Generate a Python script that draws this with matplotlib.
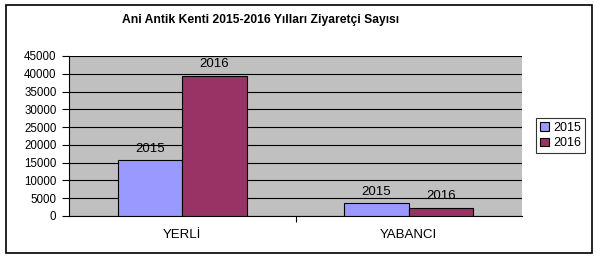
import matplotlib
matplotlib.use("Agg")
import matplotlib.pyplot as plt
from matplotlib.patches import Rectangle
import numpy as np

plt.rcParams['font.family'] = ['Liberation Sans', 'DejaVu Sans']

categories = ["YERLİ", "YABANCI"]
series_names = ["2015", "2016"]
values_2015 = [15700, 3550]
values_2016 = [39400, 2350]
colors = ["#9999FF", "#993366"]
yticks = [0, 5000, 10000, 15000, 20000, 25000, 30000, 35000, 40000, 45000]
title = "Ani Antik Kenti 2015-2016 Yılları Ziyaretçi Sayısı"

W, H = 602, 260
fig = plt.figure(figsize=(W / 100, H / 100), dpi=100)

# outer frame
fig.patches.append(Rectangle((6 / W, 1 - 253 / H), (592 - 6) / W, (253 - 5) / H,
                             transform=fig.transFigure, fill=False,
                             edgecolor="black", linewidth=1.2))

ax = fig.add_axes([69 / W, 1 - 216 / H, (522 - 69) / W, (216 - 56) / H])
ax.set_facecolor("#C0C0C0")

x = np.arange(len(categories))
width = 1 / 3.5
series = [values_2015, values_2016]
for i, (vals, name, c) in enumerate(zip(series, series_names, colors)):
    pos = x + (i - 0.5) * width
    ax.bar(pos, vals, width, color=c, edgecolor="black", linewidth=0.8,
           label=name, zorder=3)
    for p, v in zip(pos, vals):
        ax.annotate(name, (p, v), xytext=(0, 4), textcoords="offset points",
                    ha="center", va="bottom", fontsize=9.5, zorder=4)

ax.set_xlim(-0.5, 1.5)
ax.set_ylim(0, 45000)
ax.set_yticks(yticks)
ax.set_yticklabels([str(t) for t in yticks], fontsize=8.3)
ax.yaxis.grid(True, color="black", linewidth=0.8, zorder=1)
ax.set_axisbelow(True)
ax.set_xticks(x)
ax.set_xticklabels(categories, fontsize=9.5)
ax.tick_params(axis="x", which="major", length=0, pad=9)
ax.set_xticks([0.5], minor=True)
ax.tick_params(axis="x", which="minor", length=4, width=0.8, direction="out")
ax.tick_params(axis="y", length=5, width=0.8, direction="out", pad=4)

for s in ["top", "right"]:
    ax.spines[s].set_visible(False)
ax.spines["left"].set_linewidth(0.8)
ax.spines["bottom"].set_linewidth(0.8)

fig.text((122 + 400) / 2 / W, 1 - 20 / H, title, ha="center", va="center",
         fontsize=8.7, fontweight="bold")

leg = ax.legend(loc="center left", bbox_to_anchor=(536 / W, 1 - 135.5 / H),
                bbox_transform=fig.transFigure, fontsize=9, frameon=True,
                fancybox=False, edgecolor="black", handlelength=0.7,
                handleheight=0.7, handletextpad=0.4, borderpad=0.3,
                labelspacing=0.3, borderaxespad=0)
leg.get_frame().set_linewidth(0.8)

fig.savefig("out.png", dpi=100)
